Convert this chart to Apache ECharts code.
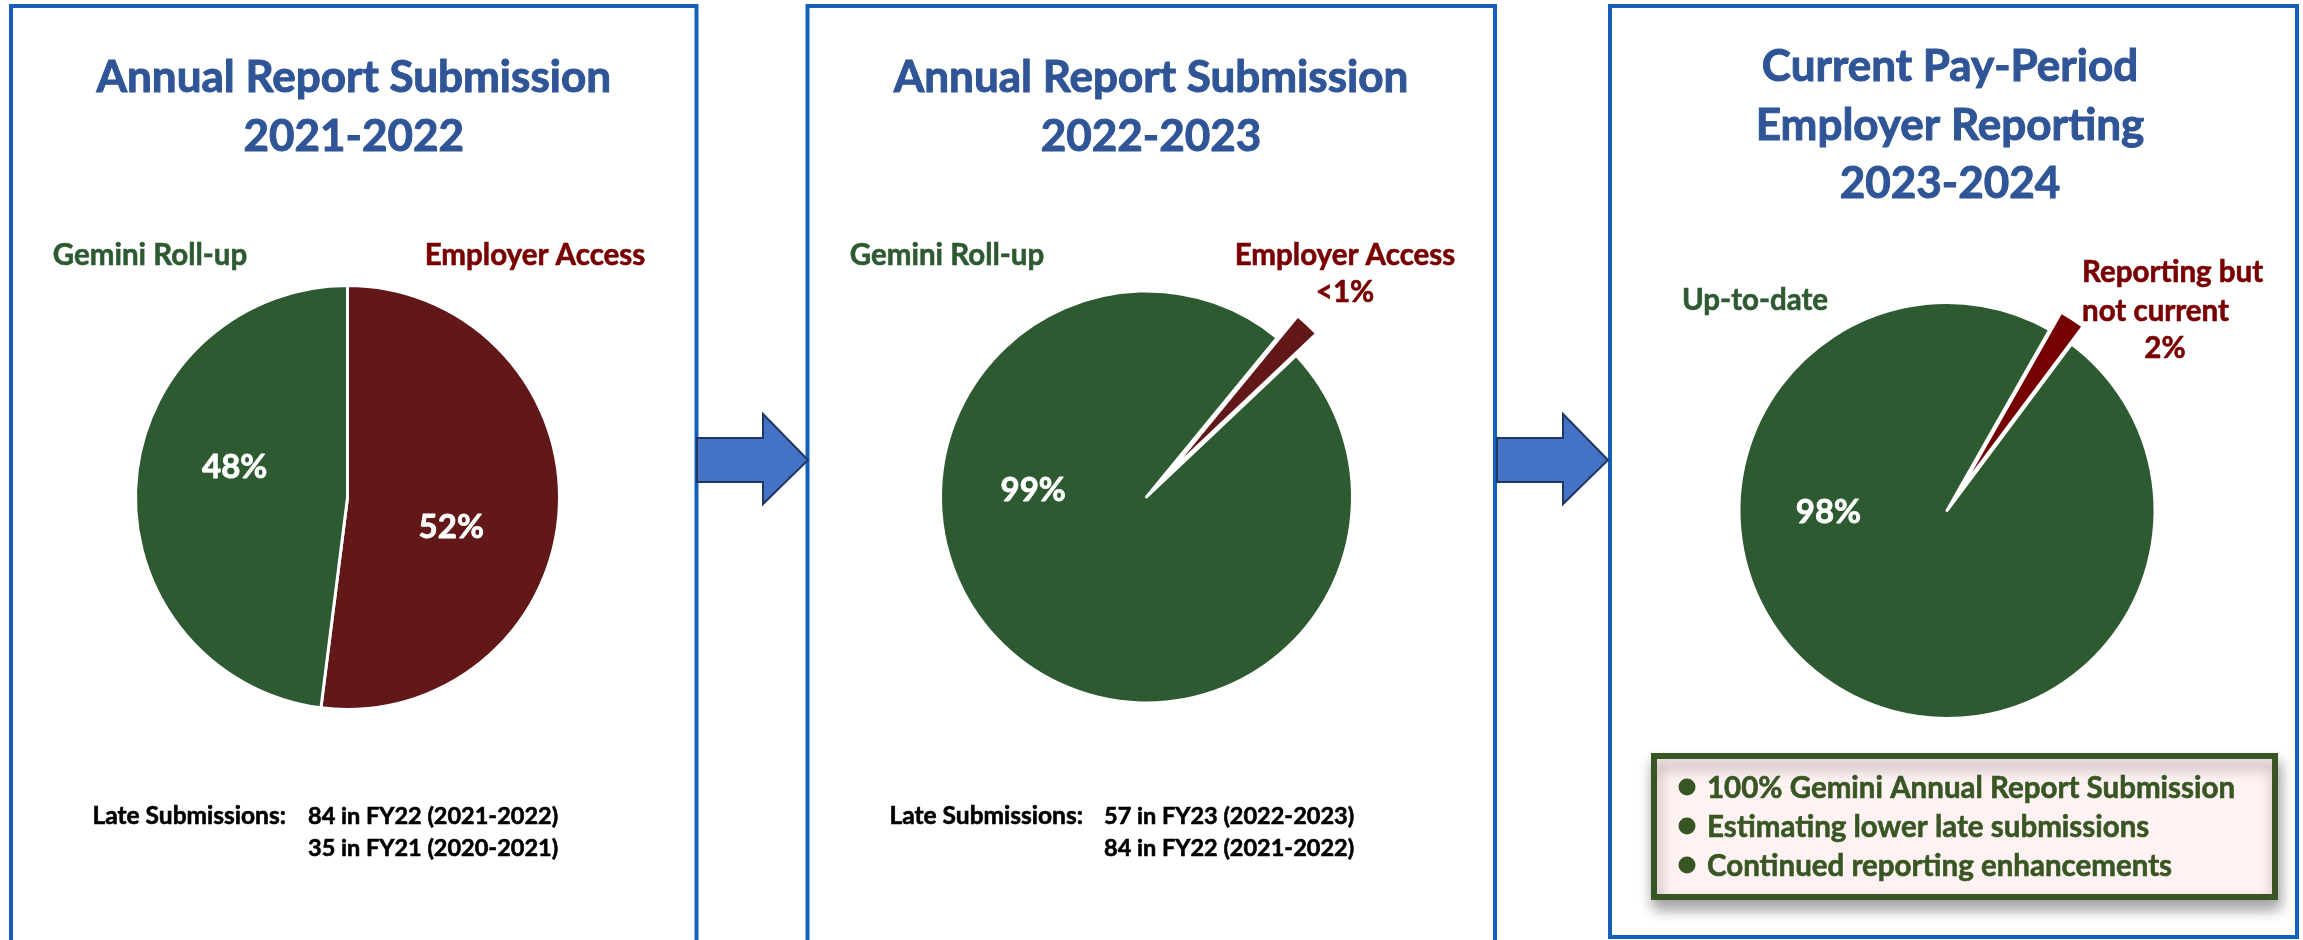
<!DOCTYPE html>
<html>
<head>
<meta charset="utf-8">
<title>Annual Report Submission</title>
<script src="https://cdn.jsdelivr.net/npm/echarts@6/dist/echarts.min.js"></script>
<style>
    html, body { margin: 0; padding: 0; background: #ffffff; }
    #chart { width: 2303px; height: 940px; }
</style>
</head>
<body>
<div id="chart"></div>
<script>
// ---- data ----
// panel 1: Annual Report Submission 2021-2022
var fy22Names = ['Employer Access', 'Gemini Roll-up'];
var fy22Values = [52, 48];
var fy22Labels = ['52%', '48%'];

// panel 2: Annual Report Submission 2022-2023
var fy23Names = ['Employer Access', 'Gemini Roll-up'];
var fy23Values = [2, 98];
var fy23Labels = ['<1%', '99%'];

// panel 3: Current Pay-Period Employer Reporting 2023-2024
var fy24Names = ['Reporting but not current', 'Up-to-date'];
var fy24Values = [2, 98];
var fy24Labels = ['2%', '98%'];

var lateFy22 = ['84 in FY22 (2021-2022)', '35 in FY21 (2020-2021)'];
var lateFy23 = ['57 in FY23 (2022-2023)', '84 in FY22 (2021-2022)'];
var notes = [
    '100% Gemini Annual Report Submission',
    'Estimating lower late submissions',
    'Continued reporting enhancements'
];

// ---- styles ----
var FONT = 'Lato, "Open Sans", sans-serif';
var GREEN = '#2e5a32';
var MAROON = '#621718';
var RED = '#780000';
var TITLE_BLUE = '#2f5597';
var FRAME_BLUE = '#1560bd';
var NOTE_GREEN = '#375623';

var chart = echarts.init(document.getElementById('chart'), null, { renderer: 'canvas' });

// build pie data list from the arrays
function pieData(names, values, colors, explodeFirst) {
    var list = [];
    for (var i = 0; i < names.length; i++) {
        var item = {
            name: names[i],
            value: values[i],
            itemStyle: { color: colors[i] },
            select: { itemStyle: { color: colors[i], borderColor: '#ffffff', borderWidth: 3 } }
        };
        if (explodeFirst && i === 0) {
            item.selected = true;
            item.label = { show: false };
        }
        list.push(item);
    }
    return list;
}

function pieSeries(center, radius, startAngle, data, offset, layout) {
    return {
        type: 'pie',
        center: center,
        radius: radius,
        startAngle: startAngle,
        clockwise: true,
        selectedMode: offset ? 'single' : false,
        selectedOffset: offset || 0,
        avoidLabelOverlap: false,
        silent: true,
        itemStyle: { borderColor: '#ffffff', borderWidth: 3 },
        label: {
            show: true,
            position: 'inside',
            color: '#ffffff',
            fontFamily: FONT,
            fontWeight: 'bold',
            fontSize: 33,
            textBorderColor: '#ffffff',
            textBorderWidth: 0.8
        },
        labelLine: { show: false },
        labelLayout: layout,
        emphasis: { disabled: true },
        data: data
    };
}

// bold text, with a thin stroke of the same colour to thicken the strokes a bit
function text(x, y, str, size, color, align, lineHeight) {
    return {
        type: 'text',
        x: x,
        y: y,
        silent: true,
        style: {
            text: str,
            fill: color,
            stroke: color,
            lineWidth: size > 30 ? 1 : 0.6,
            font: 'bold ' + size + 'px ' + FONT,
            align: align || 'center',
            verticalAlign: 'middle',
            lineHeight: lineHeight || size
        }
    };
}

function frame(x1, y1, x2, y2) {
    return {
        type: 'rect',
        silent: true,
        shape: { x: x1, y: y1, width: x2 - x1, height: y2 - y1 },
        style: { fill: null, stroke: FRAME_BLUE, lineWidth: 4 }
    };
}

function arrow(x0) {
    // block arrow between two panels
    return {
        type: 'polygon',
        silent: true,
        shape: {
            points: [
                [x0, 438], [x0 + 66, 438], [x0 + 66, 414], [x0 + 111, 460],
                [x0 + 66, 504], [x0 + 66, 482], [x0, 482]
            ]
        },
        style: { fill: '#4472c4', stroke: '#1f3763', lineWidth: 2 }
    };
}

var graphics = [
    frame(11, 6, 696.5, 1100),
    frame(807.5, 6, 1495, 1100),
    frame(1610, 6, 2297, 937),
    arrow(697),
    arrow(1497),

    // titles
    text(353.75, 107.5, 'Annual Report Submission\n2021-2022', 44, TITLE_BLUE, 'center', 59),
    text(1151, 107.5, 'Annual Report Submission\n2022-2023', 44, TITLE_BLUE, 'center', 59),
    text(1950, 125.5, 'Current Pay-Period\nEmployer Reporting\n2023-2024', 44, TITLE_BLUE, 'center', 58.5),

    // category labels
    text(150, 255, fy22Names[1], 29.5, GREEN),
    text(535, 255, fy22Names[0], 29.5, RED),
    text(947, 255, fy23Names[1], 29.5, GREEN),
    text(1345, 255, fy23Names[0], 29.5, RED),
    text(1345, 292, fy23Labels[0], 29.5, RED),
    text(1755, 300, fy24Names[1], 29.5, GREEN),
    text(2082, 272, 'Reporting but', 29.5, RED, 'left'),
    text(2082, 311, 'not current', 29.5, RED, 'left'),
    text(2165, 348, fy24Labels[0], 29.5, RED),

    // late submissions
    text(286, 816.5, 'Late Submissions:', 24.5, '#000000', 'right'),
    text(308, 832.5, lateFy22.join('\n'), 23.5, '#000000', 'left', 32),
    text(1083, 816.5, 'Late Submissions:', 24.5, '#000000', 'right'),
    text(1104, 832.5, lateFy23.join('\n'), 23.5, '#000000', 'left', 32),

    // note box in panel 3
    {
        type: 'rect',
        silent: true,
        shape: { x: 1654, y: 756, width: 621, height: 141 },
        style: {
            fill: '#fff2f2',
            stroke: NOTE_GREEN,
            lineWidth: 6,
            shadowBlur: 14,
            shadowOffsetX: 2,
            shadowOffsetY: 9,
            shadowColor: 'rgba(0,0,0,0.35)'
        }
    }
];

for (var n = 0; n < notes.length; n++) {
    var yy = 787 + n * 39;
    graphics.push({
        type: 'circle',
        silent: true,
        shape: { cx: 1687, cy: yy, r: 8.5 },
        style: { fill: NOTE_GREEN }
    });
    graphics.push(text(1707, yy + 1, notes[n], 29.5, NOTE_GREEN, 'left'));
}

var option = {
    animation: false,
    backgroundColor: '#ffffff',
    series: [
        pieSeries([347.5, 497.5], 212, 90,
            pieData(fy22Names, fy22Values, [MAROON, GREEN], false), 0,
            function (p) { return p.dataIndex === 0 ? { dx: -5, dy: 23 } : { dx: -4, dy: -23 }; }),
        pieSeries([1146.5, 497], 206, 50.6,
            pieData(fy23Names, fy23Values, [MAROON, GREEN], true), 30,
            function (p) { return { dx: -41, dy: -84 }; }),
        pieSeries([1947, 510.5], 208, 60.4,
            pieData(fy24Names, fy24Values, ['#760000', GREEN], true), 21,
            function (p) { return { dx: -60, dy: -88 }; })
    ],
    graphic: { elements: graphics }
};

// percentage text comes from the label arrays
option.series[0].label.formatter = function (p) { return fy22Labels[p.dataIndex]; };
option.series[1].label.formatter = function (p) { return fy23Labels[p.dataIndex]; };
option.series[2].label.formatter = function (p) { return fy24Labels[p.dataIndex]; };

chart.setOption(option);
</script>
</body>
</html>
